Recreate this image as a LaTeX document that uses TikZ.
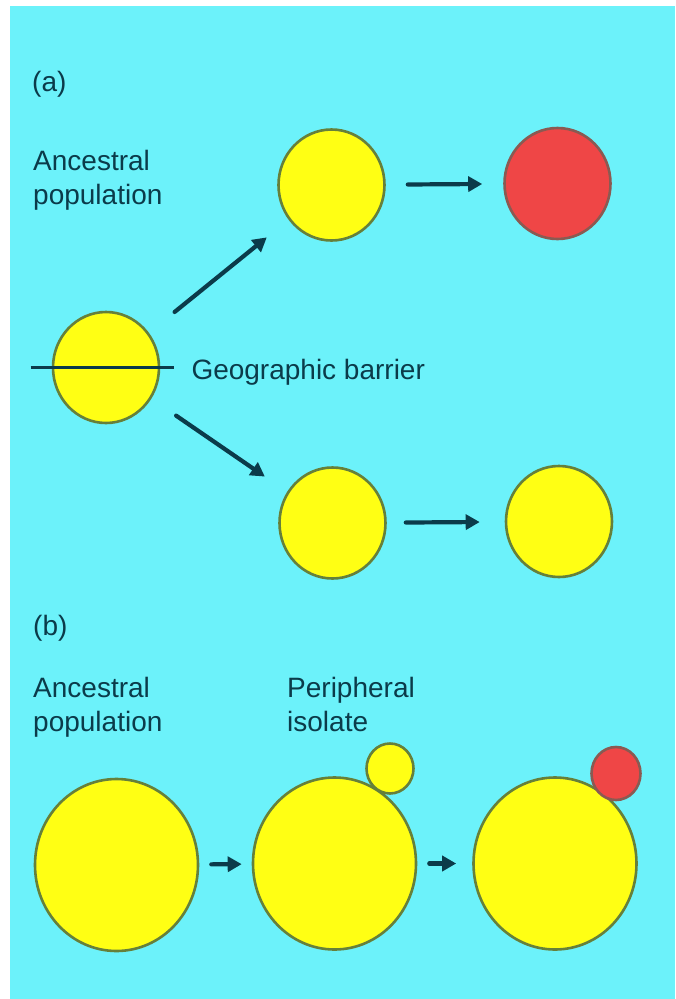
\documentclass[tikz,border=0pt]{standalone}
\usepackage{fontspec}
\setmainfont{Liberation Sans}
\usetikzlibrary{arrows.meta,positioning,shapes.geometric}
\definecolor{sea}{HTML}{6CF2FA}
\definecolor{yolk}{HTML}{FFFF14}
\definecolor{scarlet}{HTML}{EF4646}
\definecolor{rim}{HTML}{66803A}
\definecolor{scarletrim}{HTML}{8A5A52}
\definecolor{ink}{HTML}{0B3B4A}
\tikzset{
  >={Triangle[length=14pt,width=15pt]},
  every picture/.style={line cap=round, line join=round},
  pop/.style={ellipse, draw=rim, fill=yolk, line width=2.6pt, inner sep=0pt,
    minimum width=106pt, minimum height=111pt},
  redpop/.style={pop, draw=scarletrim, fill=scarlet},
  bigpop/.style={pop, minimum width=163pt, minimum height=172pt},
  isolate/.style={pop, minimum width=47pt, minimum height=50pt},
  arr/.style={->, draw=ink, line width=4.2pt},
  barrier/.style={draw=ink, line width=3.5pt, line cap=butt},
  lbl/.style={font=\fontsize{28}{34}\selectfont, text=ink, inner sep=0pt, align=left},
}
\begin{document}
\begin{tikzpicture}[x=1pt, y=-1pt]
  \fill[white] (0,0) rectangle (675,999);
  \fill[sea] (10,6) rectangle (675,999);
  \useasboundingbox (0,0) rectangle (675,999);

  % ===================== (a) allopatric =====================
  \node[lbl, anchor=base west] (tagA) at (32,91) {(a)};
  \node[lbl, anchor=north west] (ancA) at (33,150) {Ancestral\\population};
  \node[pop] (anc) at (106,367.5) {};
  \node[pop] (top1) at (331.5,185) {};
  \node[redpop] (top2) at (557.5,183.5) {};
  \node[pop] (bot1) at (332.5,523) {};
  \node[pop] (bot2) at (559,521.5) {};
  \coordinate (barL) at ([xshift=-21pt]anc.west);
  \coordinate (barR) at ([xshift=14pt]anc.east);
  \draw[barrier] (barL) -- (barR);
  \node[lbl, anchor=base west] (geo) at ([xshift=17pt, yshift=-12pt]barR) {Geographic barrier};
  \draw[arr, shorten <=33pt, shorten >=28pt] (anc) -- (top1);
  \draw[arr, shorten <=30pt, shorten >=27pt] (anc) -- (bot1);
  \draw[arr, shorten <=22pt, shorten >=21pt] (top1) -- (top2);
  \draw[arr, shorten <=19pt, shorten >=25pt] (bot1) -- (bot2);

  % ===================== (b) peripatric =====================
  \node[lbl, anchor=base west] (tagB) at (33,635) {(b)};
  \node[lbl, anchor=north west] (ancB) at (33,677) {Ancestral\\population};
  \node[lbl, anchor=north west] (periB) at (287,677) {Peripheral\\isolate};
  \node[bigpop] (big1) at (116.5,865) {};
  \node[bigpop] (big2) at (334.5,863.5) {};
  \node[bigpop] (big3) at (555,863.5) {};
  \node[isolate] (iso1) at (390,768.5) {};
  \node[isolate, redpop, minimum width=49pt, minimum height=53pt] (iso2) at (616,773.5) {};
  \draw[arr, shorten <=12pt, shorten >=10pt] (big1) -- (big2);
  \draw[arr, shorten <=12pt, shorten >=16pt] (big2) -- (big3);
\end{tikzpicture}
\end{document}
